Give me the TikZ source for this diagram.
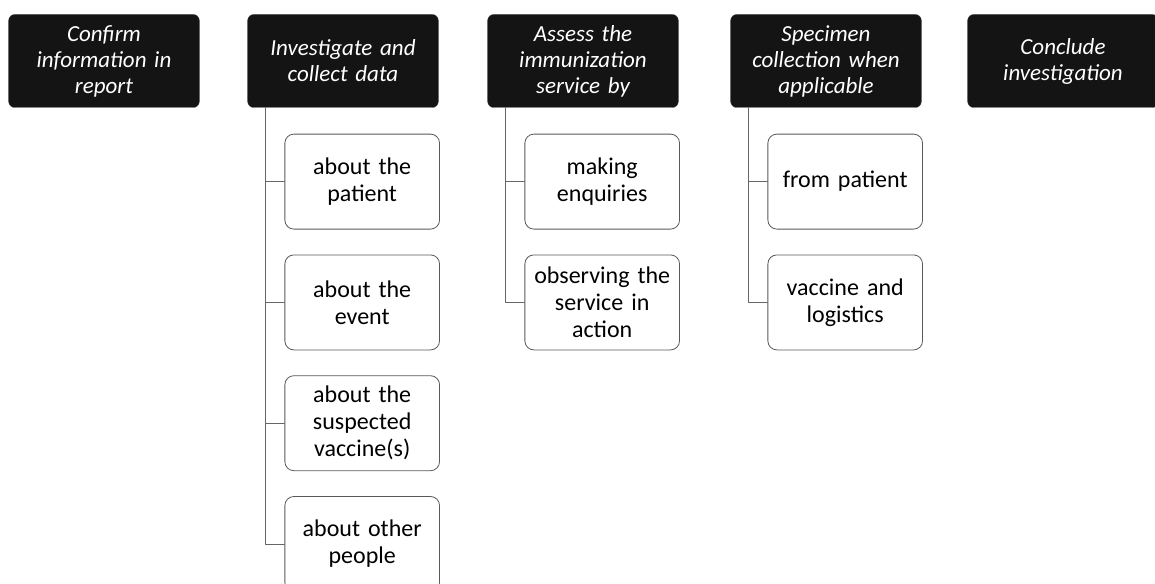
\documentclass[tikz,border=0pt]{standalone}
\usepackage{fontspec}
\setmainfont{Carlito}
\usetikzlibrary{positioning}

\begin{document}
\begin{tikzpicture}[line cap=round,line join=round,x=1pt,y=-1pt,
  headbox/.style={fill=black!92, draw=black!70, rounded corners=6pt,
    minimum width=190pt, minimum height=93pt, text width=184pt, align=center,
    text=white, font=\fontsize{23}{26}\selectfont\itshape},
  itembox/.style={draw=black!65, line width=0.8pt, rounded corners=9pt, fill=white,
    minimum width=153pt, minimum height=95pt, text width=148pt, align=center,
    font=\fontsize{24}{27}\selectfont},
  tree/.style={draw=black!60, line width=0.9pt},
  node distance=25pt]
\useasboundingbox (0,0) rectangle (1155,583);
% top row
\node[headbox] (conf) at (104,61) {Confirm\\information in\\report};
\node[headbox] (inv)  at (343,61) {Investigate and\\collect data};
\node[headbox] (ass)  at (583,61) {Assess the\\immunization\\service by};
\node[headbox] (spec) at (826,61) {Specimen\\collection when\\applicable};
\node[headbox] (concl) at (1063,61) {Conclude\\investigation};
% investigate
\node[itembox, below right=26pt and 37pt of inv.south west] (inv1) {about the\\patient};
\node[itembox, below=of inv1] (inv2) {about the\\event};
\node[itembox, below=of inv2] (inv3) {about the\\suspected\\vaccine(s)};
\node[itembox, below=of inv3] (inv4) {about other\\people};
% assess
\node[itembox, below right=26pt and 37pt of ass.south west] (ass1) {making\\enquiries};
\node[itembox, below=of ass1] (ass2) {observing the\\service in\\action};
% specimen
\node[itembox, below right=26pt and 37pt of spec.south west] (spec1) {from patient};
\node[itembox, below=of spec1] (spec2) {vaccine and\\logistics};
% tree lines
\coordinate (invtop) at ([xshift=18pt]inv.south west);
\coordinate (asstop) at ([xshift=18pt]ass.south west);
\coordinate (spectop) at ([xshift=18pt]spec.south west);
\draw[tree] (invtop) |- (inv4.west);
\foreach \n in {inv1,inv2,inv3} \draw[tree] (invtop |- \n.west) -- (\n.west);
\draw[tree] (asstop) |- (ass2.west);
\draw[tree] (asstop |- ass1.west) -- (ass1.west);
\draw[tree] (spectop) |- (spec2.west);
\draw[tree] (spectop |- spec1.west) -- (spec1.west);
\end{tikzpicture}
\end{document}
